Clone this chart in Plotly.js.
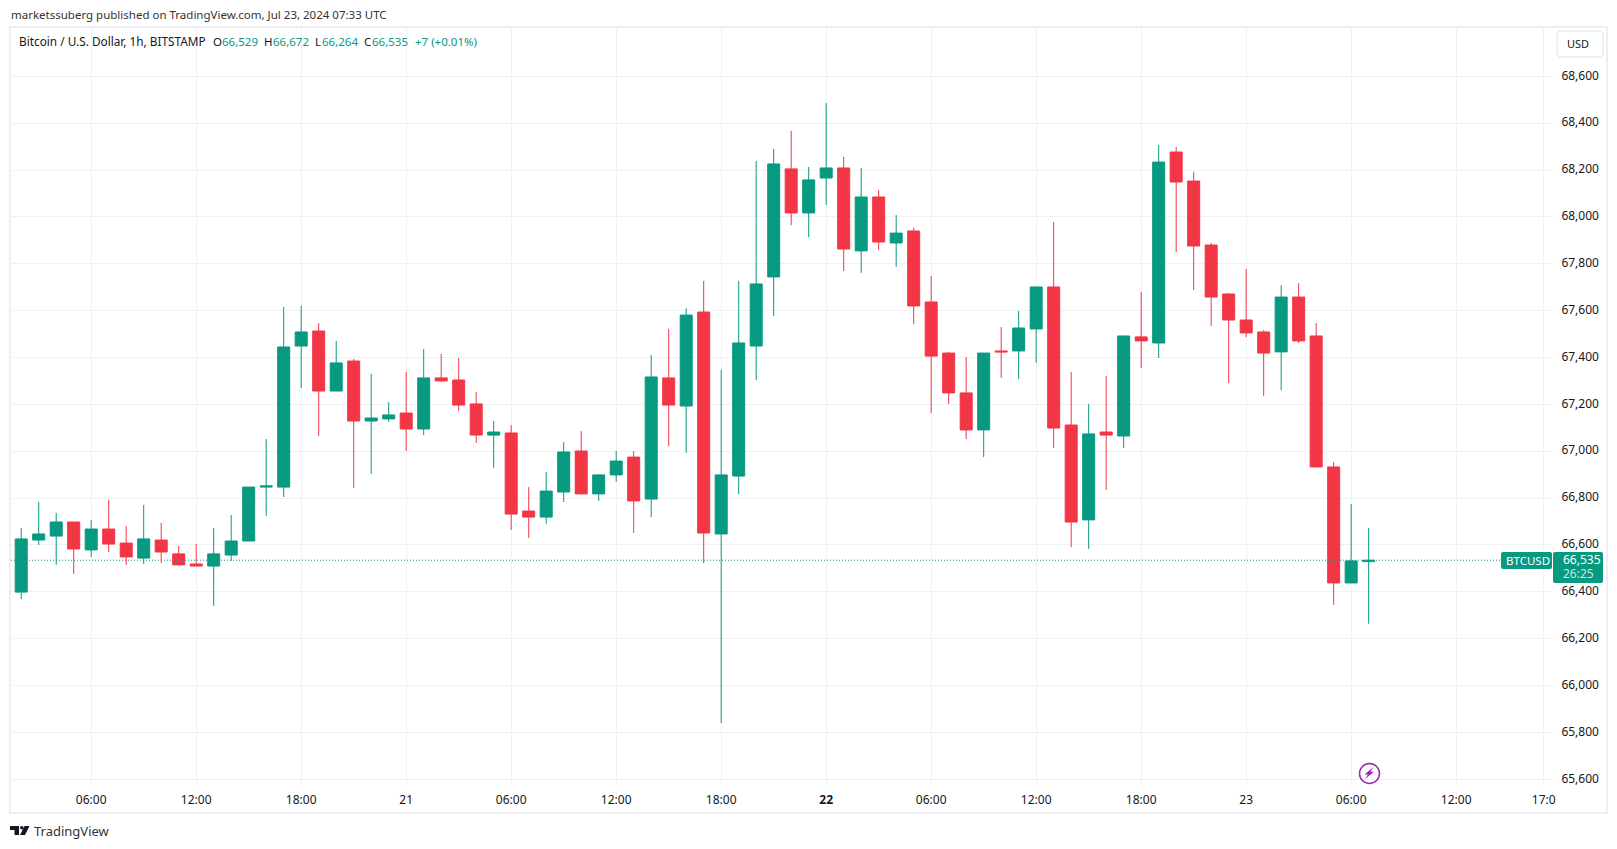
<!DOCTYPE html>
<html>
<head>
<meta charset="utf-8">
<script src="https://cdn.plot.ly/plotly-3.0.1.min.js"></script>
<style>html,body{margin:0;padding:0;background:#fff}</style>
</head>
<body>
<div id="myDiv" style="width:1617px;height:849px"></div>
<script>
var times = [
  '2024-07-20 02:00','2024-07-20 03:00','2024-07-20 04:00','2024-07-20 05:00','2024-07-20 06:00','2024-07-20 07:00',
  '2024-07-20 08:00','2024-07-20 09:00','2024-07-20 10:00','2024-07-20 11:00','2024-07-20 12:00','2024-07-20 13:00',
  '2024-07-20 14:00','2024-07-20 15:00','2024-07-20 16:00','2024-07-20 17:00','2024-07-20 18:00','2024-07-20 19:00',
  '2024-07-20 20:00','2024-07-20 21:00','2024-07-20 22:00','2024-07-20 23:00',
  '2024-07-21 00:00','2024-07-21 01:00','2024-07-21 02:00','2024-07-21 03:00','2024-07-21 04:00','2024-07-21 05:00',
  '2024-07-21 06:00','2024-07-21 07:00','2024-07-21 08:00','2024-07-21 09:00','2024-07-21 10:00','2024-07-21 11:00',
  '2024-07-21 12:00','2024-07-21 13:00','2024-07-21 14:00','2024-07-21 15:00','2024-07-21 16:00','2024-07-21 17:00',
  '2024-07-21 18:00','2024-07-21 19:00','2024-07-21 20:00','2024-07-21 21:00','2024-07-21 22:00','2024-07-21 23:00',
  '2024-07-22 00:00','2024-07-22 01:00','2024-07-22 02:00','2024-07-22 03:00','2024-07-22 04:00','2024-07-22 05:00',
  '2024-07-22 06:00','2024-07-22 07:00','2024-07-22 08:00','2024-07-22 09:00','2024-07-22 10:00','2024-07-22 11:00',
  '2024-07-22 12:00','2024-07-22 13:00','2024-07-22 14:00','2024-07-22 15:00','2024-07-22 16:00','2024-07-22 17:00',
  '2024-07-22 18:00','2024-07-22 19:00','2024-07-22 20:00','2024-07-22 21:00','2024-07-22 22:00','2024-07-22 23:00',
  '2024-07-23 00:00','2024-07-23 01:00','2024-07-23 02:00','2024-07-23 03:00','2024-07-23 04:00','2024-07-23 05:00',
  '2024-07-23 06:00','2024-07-23 07:00'
];
var opens = [
  66399,66621,66638,66698,66579,66668,66608,66544,66621,66562,66519,66510,66557,66617,66847,66847,67449,67513,67257,67385,67129,67138,
  67163,67095,67313,67304,67202,67069,67078,66745,66719,66826,67001,66818,66899,66975,66796,67313,67193,67594,66647,66894,67449,
  67744,68205,68017,68166,68209,67855,68085,67889,67940,67637,67419,67249,67091,67428,67428,
  67522,67701,67112,66707,67082,67065,67488,67462,68277,68153,67880,67671,67560,67509,67424,67658,67492,66933,
  66438,66529
];
var highs = [
  66672,66783,66737,66698,66707,66792,66681,66771,66694,66596,66604,66672,66728,66847,67052,67616,67620,67547,67471,67394,67330,67210,
  67338,67436,67415,67398,67253,67129,67112,66847,66911,67039,67086,66899,67001,67001,67411,67522,67611,67727,67347,67727,68239,
  68290,68367,68213,68486,68256,68209,68115,68008,67953,67748,67424,67402,67419,67530,67599,
  67701,67978,67338,67202,67321,67492,67680,68307,68298,68192,67889,67675,67778,67517,67709,67718,67547,66954,
  66775,66672
];
var lows = [
  66369,66600,66515,66476,66549,66570,66515,66519,66523,66515,66510,66340,66532,66617,66724,66805,67270,67065,67257,66843,66903,67125,
  67001,67069,67296,67172,67035,66929,66664,66630,66690,66783,66818,66788,66869,66651,66719,67022,66993,66523,65840,66817,67304,
  67577,67965,67914,68051,67769,67761,67859,67786,67543,67163,67202,67052,66975,67313,67308,
  67377,67014,66591,66583,66835,67014,67355,67398,67850,67688,67535,67291,67487,67236,67261,67462,66933,66344,
  66438,66264
];
var closes = [
  66626,66647,66698,66583,66668,66604,66549,66626,66570,66515,66510,66562,66617,66847,66852,67445,67509,67257,67377,67129,67142,67155,
  67095,67313,67300,67197,67069,67082,66732,66719,66830,66997,66818,66899,66958,66788,67317,67197,67581,66651,66899,67462,67714,
  68226,68017,68158,68209,67863,68085,67893,67931,67620,67406,67249,67091,67419,67424,67526,
  67701,67099,66698,67074,67069,67492,67471,68234,68149,67876,67658,67560,67505,67419,67658,67471,66933,66438,
  66532,66535
];
var lastPrice = 66535;

var xTickVals = ['2024-07-20 06:00','2024-07-20 12:00','2024-07-20 18:00','2024-07-21 00:00','2024-07-21 06:00','2024-07-21 12:00',
  '2024-07-21 18:00','2024-07-22 00:00','2024-07-22 06:00','2024-07-22 12:00','2024-07-22 18:00','2024-07-23 00:00',
  '2024-07-23 06:00','2024-07-23 12:00','2024-07-23 17:00'];
var xTickText = ['06:00','12:00','18:00','21','06:00','12:00','18:00','<b>22</b>','06:00','12:00','18:00','23','06:00','12:00','17:0'];
var yTickVals = [65600,65800,66000,66200,66400,66600,66800,67000,67200,67400,67600,67800,68000,68200,68400,68600];
var yTickText = ['65,600','65,800','66,000','66,200','66,400','66,600','66,800','67,000','67,200','67,400','67,600','67,800','68,000','68,200','68,400','68,600'];

var UP = '#089981', DOWN = '#f23645', INK = '#131722', GRID = '#f0f1f3', FONT = '"Noto Sans", sans-serif';
var W = 1617, H = 849, L = 11, R = 1553, T = 28, B = 785;

function px(x) { return (x - L) / (R - L); }
function py(y) { return (B - y) / (B - T); }

function note(x, y, text, size, color, anchor) {
  return {xref: 'paper', yref: 'paper', x: px(x), y: py(y), text: text, showarrow: false, borderpad: 0,
    xanchor: anchor || 'left', yanchor: 'middle', font: {family: FONT, size: size, color: color}};
}
function box(x0, y0, x1, y1, fill, line) {
  return {type: 'rect', xref: 'paper', yref: 'paper', x0: px(x0), y0: py(y0), x1: px(x1), y1: py(y1),
    fillcolor: fill, line: {color: line || fill, width: line ? 2 : 0}, layer: 'above'};
}
function poly(points, fill) {
  var d = points.map(function (p, i) { return (i ? 'L' : 'M') + px(p[0]) + ',' + py(p[1]); }).join(' ') + ' Z';
  return {type: 'path', xref: 'paper', yref: 'paper', path: d, fillcolor: fill, line: {width: 0}, layer: 'above'};
}
function roundBox(x0, y0, x1, y1, r, fill, line) {
  var d = 'M' + px(x0 + r) + ',' + py(y0) + ' L' + px(x1 - r) + ',' + py(y0) +
    ' Q' + px(x1) + ',' + py(y0) + ' ' + px(x1) + ',' + py(y0 + r) +
    ' L' + px(x1) + ',' + py(y1 - r) + ' Q' + px(x1) + ',' + py(y1) + ' ' + px(x1 - r) + ',' + py(y1) +
    ' L' + px(x0 + r) + ',' + py(y1) + ' Q' + px(x0) + ',' + py(y1) + ' ' + px(x0) + ',' + py(y1 - r) +
    ' L' + px(x0) + ',' + py(y0 + r) + ' Q' + px(x0) + ',' + py(y0) + ' ' + px(x0 + r) + ',' + py(y0) + ' Z';
  return {type: 'path', xref: 'paper', yref: 'paper', path: d, fillcolor: fill,
    line: {color: line || fill, width: line ? 1 : 0}, layer: 'above'};
}

var trace = {
  type: 'candlestick',
  x: times, open: opens, high: highs, low: lows, close: closes,
  increasing: {line: {color: UP, width: 1}, fillcolor: UP},
  decreasing: {line: {color: DOWN, width: 1}, fillcolor: DOWN},
  whiskerwidth: 0,
  hoverinfo: 'skip',
  showlegend: false
};

var shapes = [
  // frame
  box(10, 27, 1607, 813, 'rgba(0,0,0,0)', '#eeeef3'),
  {type: 'line', xref: 'paper', yref: 'y', x0: 0, x1: px(1501), y0: lastPrice, y1: lastPrice,
    line: {color: UP, width: 1, dash: '1px,2px'}, layer: 'above'},
  roundBox(1501, 552, 1552, 569, 2, UP),
  roundBox(1553, 552, 1603, 583, 2, UP),
  roundBox(1557, 31, 1603, 57, 4, '#ffffff', '#e0e3eb'),
  // lightning badge
  {type: 'circle', xref: 'paper', yref: 'paper', x0: px(1359.5), x1: px(1379.5), y0: py(763.5), y1: py(783.5),
    fillcolor: 'rgba(0,0,0,0)', line: {color: '#9c27b0', width: 1.5}, layer: 'above'},
  poly([[1373.5, 767], [1364.5, 774.5], [1368, 774.5], [1365, 779], [1374, 771.8], [1370.5, 771.8]], '#9c27b0'),
  // logo
  poly([[10, 826], [19, 826], [19, 835], [14.5, 835], [14.5, 830], [10, 830]], '#131722'),
  {type: 'circle', xref: 'paper', yref: 'paper', x0: px(20), x1: px(23.6), y0: py(826), y1: py(829.6),
    fillcolor: '#131722', line: {width: 0}, layer: 'above'},
  poly([[24.5, 826], [29.5, 826], [25, 835], [20, 835]], '#131722')
];

var annotations = [
  note(10, 15, 'marketssuberg published on TradingView.com, Jul 23, 2024 07:33 UTC', 11.5, '#333333'),
  note(18, 41, 'Bitcoin / U.S. Dollar, 1h, BITSTAMP', 11.8, INK),
  note(212, 41, 'O', 11.5, INK), note(221, 41, '66,529', 11.5, UP),
  note(263, 41, 'H', 11.5, INK), note(272, 41, '66,672', 11.5, UP),
  note(314, 41, 'L', 11.5, INK), note(321, 41, '66,264', 11.5, UP),
  note(363, 41, 'C', 11.5, INK), note(371, 41, '66,535', 11.5, UP),
  note(414, 41, '+7 (+0.01%)', 11.5, UP),
  note(1566, 44, 'USD', 11, INK),
  note(1505, 560.5, 'BTCUSD', 11.5, '#ffffff'),
  note(1562, 559, '66,535', 12, '#ffffff'),
  note(1562, 573, '26:25', 12, '#c6e8e0'),
  note(33, 831, 'TradingView', 13, '#333333')
];

var layout = {
  width: W, height: H,
  margin: {l: L, r: W - R, t: T, b: H - B, pad: 0},
  paper_bgcolor: '#ffffff', plot_bgcolor: '#ffffff',
  font: {family: FONT, size: 12, color: INK},
  showlegend: false,
  hovermode: false,
  boxgap: 0.314,
  boxgroupgap: 0,
  xaxis: {
    type: 'date',
    range: ['2024-07-20 01:25', '2024-07-23 17:32'],
    rangeslider: {visible: false},
    tickmode: 'array', tickvals: xTickVals, ticktext: xTickText,
    showgrid: true, gridcolor: GRID, gridwidth: 1,
    zeroline: false, showline: false,
    ticks: 'outside', ticklen: 4, tickcolor: 'rgba(0,0,0,0)',
    tickfont: {family: FONT, size: 12, color: INK}
  },
  yaxis: {
    side: 'right',
    range: [65575.7, 68806.2],
    tickmode: 'array', tickvals: yTickVals, ticktext: yTickText,
    showgrid: true, gridcolor: GRID, gridwidth: 1,
    zeroline: false, showline: false,
    ticks: 'outside', ticklen: 5, tickcolor: 'rgba(0,0,0,0)',
    ticklabelshift: -1,
    tickfont: {family: FONT, size: 12, color: INK}
  },
  shapes: shapes,
  annotations: annotations
};

Plotly.newPlot('myDiv', [trace], layout, {displayModeBar: false, staticPlot: true});
</script>
</body>
</html>
